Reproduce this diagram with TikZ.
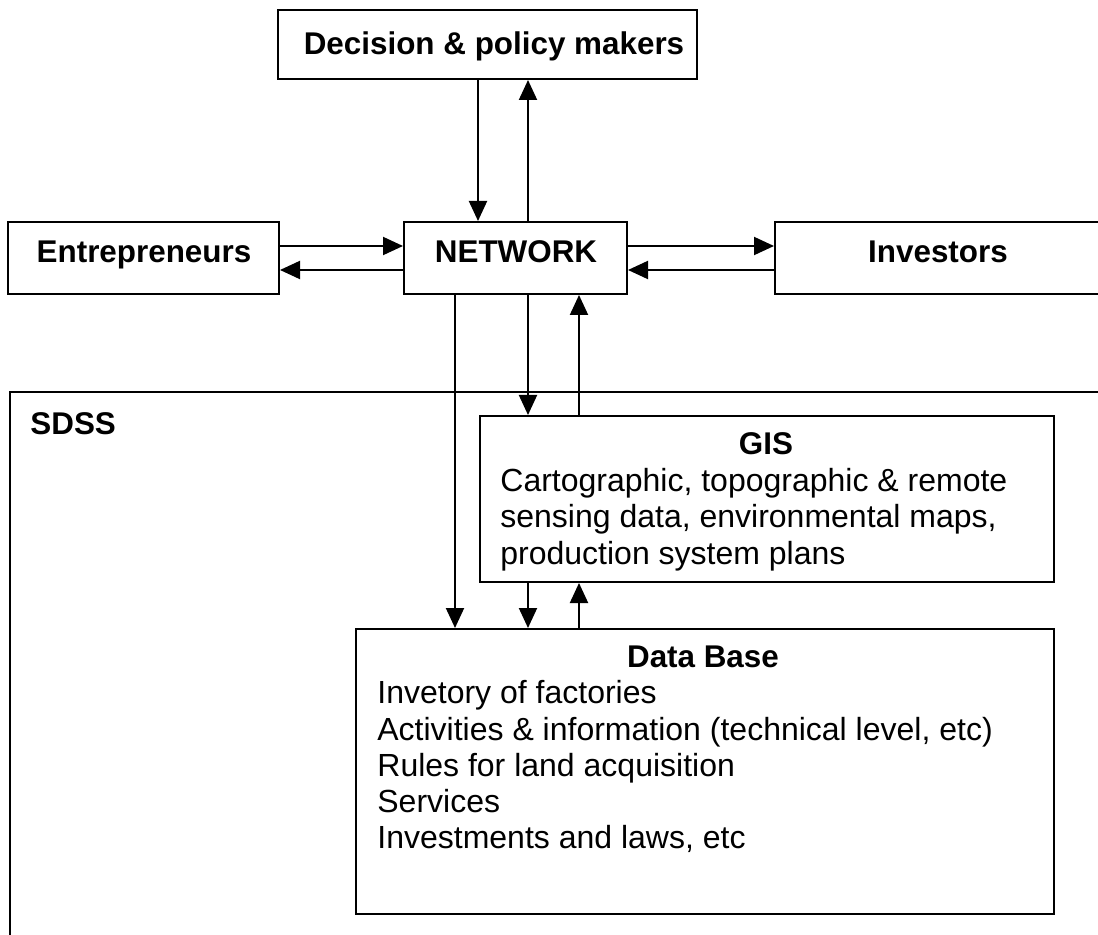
\documentclass[tikz,border=0pt]{standalone}
\usepackage{fontspec}
\setmainfont{Liberation Sans}
\usetikzlibrary{arrows.meta}
\begin{document}
\begin{tikzpicture}[x=0.5pt,y=-0.5pt,
  box/.style={draw, line width=1pt, inner sep=0pt},
  head/.style={font=\fontsize{15.7}{18}\selectfont\bfseries, inner sep=0pt},
  body/.style={font=\fontsize{16}{18}\selectfont, inner sep=0pt, anchor=base west},
  flow/.style={line width=1pt, -{Triangle[length=10pt,width=9pt]}}]
\useasboundingbox (0,0) rectangle (1098,935);
\fill[white] (0,0) rectangle (1098,935);
\clip (0,0) rectangle (1098,935);

% boxes
\node[box, minimum width=209.5pt, minimum height=34.5pt] (dec) at (487.5,44.5) {};
\node[box, minimum width=135.5pt, minimum height=36pt] (ent) at (143.5,258) {};
\node[box, minimum width=111.5pt, minimum height=36pt] (net) at (515.5,258) {};
\node[box, minimum width=163pt, minimum height=36pt] (inv) at (938,258) {};
\node[box, anchor=north west, minimum width=555pt, minimum height=280pt] (sdss) at (9,391) {};
\node[box, fill=white, minimum width=287pt, minimum height=83pt] (gis) at (767,499) {};
\node[box, fill=white, minimum width=349pt, minimum height=142.5pt] (db) at (705,771.5) {};

% labels
\node[head, anchor=base] (dec-t) at (494,55) {Decision \& policy makers};
\node[head, anchor=base] (ent-t) at (144,263) {Entrepreneurs};
\node[head, anchor=base] (net-t) at (516,263) {NETWORK};
\node[head, anchor=base] (inv-t) at (938,263) {Investors};
\node[head, anchor=base west] (sdss-t) at (30,435) {SDSS};

\node[head, anchor=base] (gis-t) at (766,455) {GIS};
\node[body] (gis-1) at (500,492) {Cartographic, topographic \& remote};
\node[body] (gis-2) at (500,528) {sensing data, environmental maps,};
\node[body] (gis-3) at (500,564) {production system plans};

\node[head, anchor=base] (db-t) at (703,667) {Data Base};
\node[body] (db-1) at (377,703) {Invetory of factories};
\node[body] (db-2) at (377,740) {Activities \& information (technical level, etc)};
\node[body] (db-3) at (377,776) {Rules for land acquisition};
\node[body] (db-4) at (377,812) {Services};
\node[body] (db-5) at (377,848) {Investments and laws, etc};

% connector lanes
\coordinate (xa) at (478,0);
\coordinate (xb) at (528,0);
\coordinate (xc) at (455,0);
\coordinate (xd) at (579,0);
\coordinate (ya) at (0,246);
\coordinate (yb) at (0,270);

% connectors
\draw[flow] (dec.south -| xa) -- (net.north -| xa);
\draw[flow] (net.north -| xb) -- (dec.south -| xb);
\draw[flow] (ent.east |- ya) -- (net.west |- ya);
\draw[flow] (net.west |- yb) -- (ent.east |- yb);
\draw[flow] (net.east |- ya) -- (inv.west |- ya);
\draw[flow] (inv.west |- yb) -- (net.east |- yb);
\draw[flow] (net.south -| xc) -- (db.north -| xc);
\draw[flow] (net.south -| xb) -- (gis.north -| xb);
\draw[flow] (gis.north -| xd) -- (net.south -| xd);
\draw[flow] (gis.south -| xb) -- (db.north -| xb);
\draw[flow] (db.north -| xd) -- (gis.south -| xd);
\end{tikzpicture}
\end{document}
